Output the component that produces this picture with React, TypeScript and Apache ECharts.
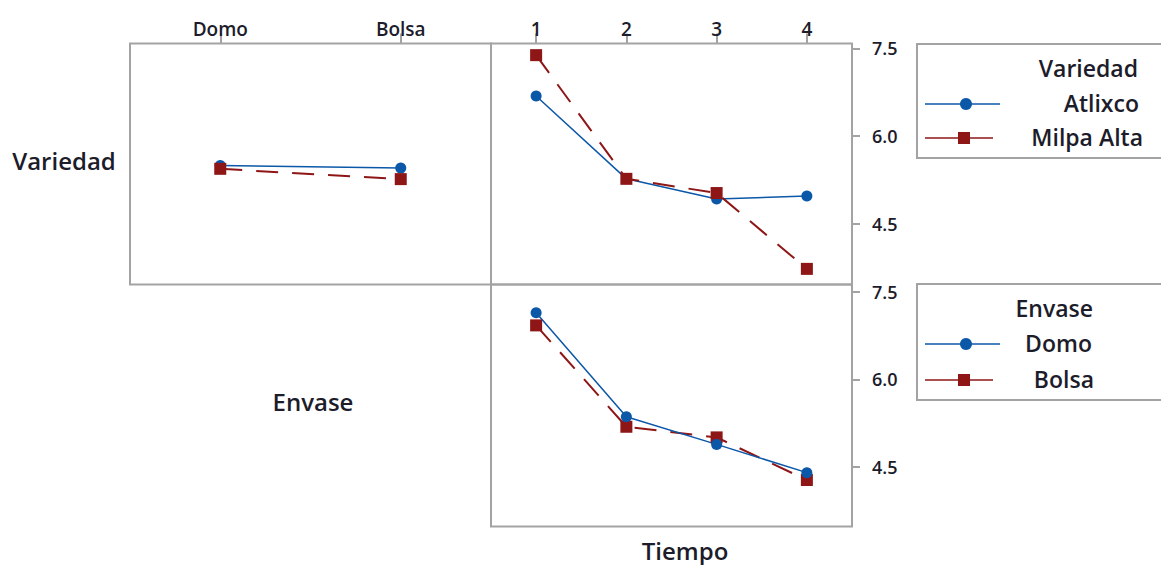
import React, { useEffect, useRef } from "react";
import * as echarts from "echarts";

// Factor levels
const tiempos = ["1", "2", "3", "4"];
const envases = ["Domo", "Bolsa"];
const variedades = ["Atlixco", "Milpa Alta"];

// Means of Variedad by Envase
const atlixcoPorEnvase = [5.5, 5.455];
const milpaAltaPorEnvase = [5.443, 5.267];

// Means of Variedad by Tiempo
const atlixcoPorTiempo = [6.687, 5.272, 4.926, 4.977];
const milpaAltaPorTiempo = [7.386, 5.272, 5.029, 3.733];

// Means of Envase by Tiempo
const domoPorTiempo = [7.147, 5.357, 4.883, 4.397];
const bolsaPorTiempo = [6.929, 5.186, 5.003, 4.271];

// Shared response-axis ticks
const yTicks = [4.5, 6.0, 7.5];

const BLUE = "#0b57a8";
const RED = "#8e1616";
const FRAME = "#a3a3a3";
const INK = "#1c1c2a";
const FONT = "Open Sans";

export default function App() {
  const ref = useRef<HTMLDivElement>(null);

  useEffect(() => {
    if (!ref.current) return;
    const chart = echarts.init(ref.current, null, { renderer: "svg" });

    const blueSeries = (data: number[], idx: number) => ({
      type: "line",
      xAxisIndex: idx,
      yAxisIndex: idx,
      data,
      symbol: "circle",
      symbolSize: 11,
      itemStyle: { color: BLUE },
      lineStyle: { color: BLUE, width: 1.5 },
    });
    const redSeries = (data: number[], idx: number) => ({
      type: "line",
      xAxisIndex: idx,
      yAxisIndex: idx,
      data,
      symbol: "rect",
      symbolSize: 12,
      itemStyle: { color: RED },
      lineStyle: { color: RED, width: 2, type: [22, 14] },
    });

    const topXAxis = (idx: number, data: string[]) => ({
      type: "category",
      gridIndex: idx,
      data,
      position: "top",
      boundaryGap: true,
      axisLine: { show: false },
      axisTick: { show: true, alignWithLabel: true, length: 10, lineStyle: { color: FRAME, width: 2 } },
      axisLabel: { margin: 5, fontFamily: FONT, fontSize: 19, fontWeight: 600, color: INK },
      splitLine: { show: false },
    });

    const yAxis = (idx: number, min: number, max: number, show: boolean) => ({
      type: "value",
      gridIndex: idx,
      min,
      max,
      position: "right",
      axisLine: { show: false },
      axisTick: {
        show,
        length: 8,
        customValues: yTicks,
        lineStyle: { color: FRAME, width: 2 },
      },
      axisLabel: {
        show,
        margin: 20,
        customValues: yTicks,
        formatter: (v: number) => v.toFixed(1),
        fontFamily: FONT,
        fontSize: 18,
        fontWeight: 600,
        color: INK,
      },
      splitLine: { show: false },
    });

    const legendBox = (
      top: number,
      height: number,
      title: string,
      titleRight: number,
      names: string[],
      rights: number[],
      rows: number[]
    ) => ({
      type: "group",
      children: [
        {
          type: "rect",
          shape: { x: 917, y: top, width: 280, height },
          style: { fill: "none", stroke: FRAME, lineWidth: 2 },
        },
        {
          type: "text",
          x: titleRight,
          y: top + 24,
          style: {
            text: title,
            align: "right",
            verticalAlign: "middle",
            fontFamily: FONT,
            fontSize: 23,
            fontWeight: 600,
            fill: INK,
          },
        },
        {
          type: "line",
          shape: { x1: 925, y1: rows[0], x2: 1000, y2: rows[0] },
          style: { stroke: BLUE, lineWidth: 1.5 },
        },
        {
          type: "circle",
          shape: { cx: 966, cy: rows[0], r: 6 },
          style: { fill: BLUE },
        },
        {
          type: "line",
          shape: { x1: 925, y1: rows[1], x2: 993, y2: rows[1] },
          style: { stroke: RED, lineWidth: 1.5 },
        },
        {
          type: "rect",
          shape: { x: 958, y: rows[1] - 6, width: 12, height: 12 },
          style: { fill: RED },
        },
        ...names.map((n, i) => ({
          type: "text",
          x: rights[i],
          y: rows[i] - 1,
          style: {
            text: n,
            align: "right",
            verticalAlign: "middle",
            fontFamily: FONT,
            fontSize: 23,
            fontWeight: 600,
            fill: INK,
          },
        })),
      ],
    });

    const factorLabel = (text: string, x: number, y: number) => ({
      type: "text",
      x,
      y,
      style: {
        text,
        align: "center",
        verticalAlign: "middle",
        fontFamily: FONT,
        fontSize: 24,
        fontWeight: 600,
        fill: INK,
      },
    });

    chart.setOption({
      animation: false,
      backgroundColor: "#ffffff",
      grid: [
        { left: 130, top: 43.5, width: 361, height: 241, show: true, borderColor: FRAME, borderWidth: 2, backgroundColor: "transparent" },
        { left: 491, top: 43.5, width: 361, height: 241, show: true, borderColor: FRAME, borderWidth: 2, backgroundColor: "transparent" },
        { left: 491, top: 284.5, width: 361, height: 242, show: true, borderColor: FRAME, borderWidth: 2, backgroundColor: "transparent" },
      ],
      xAxis: [
        topXAxis(0, envases),
        topXAxis(1, tiempos),
        {
          type: "category",
          gridIndex: 2,
          data: tiempos,
          boundaryGap: true,
          axisLine: { show: false },
          axisTick: { show: false },
          axisLabel: { show: false },
        },
      ],
      yAxis: [
        yAxis(0, 3.466, 7.585, false),
        yAxis(1, 3.466, 7.585, true),
        yAxis(2, 3.471, 7.632, true),
      ],
      series: [
        { name: variedades[0], ...blueSeries(atlixcoPorEnvase, 0) },
        { name: variedades[1], ...redSeries(milpaAltaPorEnvase, 0) },
        { name: variedades[0], ...blueSeries(atlixcoPorTiempo, 1) },
        { name: variedades[1], ...redSeries(milpaAltaPorTiempo, 1) },
        { name: envases[1], ...redSeries(bolsaPorTiempo, 2) },
        { name: envases[0], ...blueSeries(domoPorTiempo, 2) },
      ],
      graphic: [
        factorLabel("Variedad", 64, 160),
        factorLabel("Envase", 313, 401),
        factorLabel("Tiempo", 685, 550),
        legendBox(44, 114, "Variedad", 1138, variedades, [1139, 1143], [104, 138]),
        legendBox(284, 116, "Envase", 1093, envases, [1092, 1094], [344, 380]),
      ],
    });

    return () => chart.dispose();
  }, []);

  return (
    <div
      ref={ref}
      style={{ position: "fixed", left: 0, top: 0, width: 1161, height: 565 }}
    />
  );
}
